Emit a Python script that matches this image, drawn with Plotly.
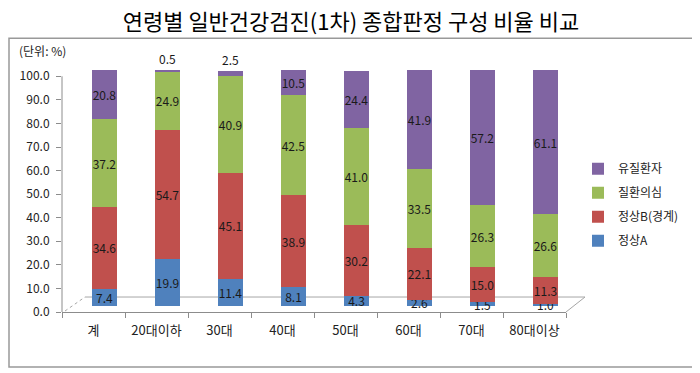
import plotly.graph_objects as go

categories = ["계", "20대이하", "30대", "40대", "50대", "60대", "70대", "80대이상"]
normal_a = [7.4, 19.9, 11.4, 8.1, 4.3, 2.6, 1.5, 1.0]
normal_b = [34.6, 54.7, 45.1, 38.9, 30.2, 22.1, 15.0, 11.3]
suspect = [37.2, 24.9, 40.9, 42.5, 41.0, 33.5, 26.3, 26.6]
disease = [20.8, 0.5, 2.5, 10.5, 24.4, 41.9, 57.2, 61.1]
series_names = ["정상A", "정상B(경계)", "질환의심", "유질환자"]
colors = ["#4F81BD", "#C0504D", "#9BBB59", "#8064A2"]
y_ticks = [0, 10, 20, 30, 40, 50, 60, 70, 80, 90, 100]

# page offset (browser body margin)
O = 8
W, H = 700 - O, 373 - O
# target pixel geometry (in screenshot coordinates)
x_left, x_right = 62, 566
y_zero, y_hundred = 312, 76
px_per_unit = (y_zero - y_hundred) / 100.0
y_max = 112.0
y_top = y_zero - y_max * px_per_unit

L = x_left - O
R = W - (x_right - O)
T = y_top - O
B = H - (y_zero - O)
PW = x_right - x_left
PH = y_zero - y_top

dx_px, dy_px = 11, 6
shift_x = dx_px / (PW / len(categories))
shift_y = dy_px / px_per_unit

font_kr = "Noto Sans CJK KR, Noto Sans, sans-serif"

def px_x(px):
    return (px - x_left) / PW

def px_y(py):
    return (y_zero - py) / PH

fig = go.Figure()
fig.add_trace(go.Scatter(x=categories, y=[0] * len(categories), mode="markers",
                         marker=dict(opacity=0), showlegend=False, hoverinfo="skip"))

all_series = [normal_a, normal_b, suspect, disease]
for i, (name, vals, col) in enumerate(zip(series_names, all_series, colors)):
    if i == 3:
        pos = ["outside" if v < 5 else "inside" for v in vals]
    else:
        pos = ["inside"] * len(vals)
    fig.add_trace(go.Bar(
        x=categories, y=vals, name=name, legendgroup=name, legendrank=1000 - i,
        marker=dict(color=col, line=dict(width=0)),
        text=[f"{v:.1f}" for v in vals], textposition=pos, insidetextanchor="middle",
        constraintext="none", textangle=0, cliponaxis=False,
        textfont=dict(family=font_kr, size=12, color="#1a1a1a"),
        outsidetextfont=dict(family=font_kr, size=12, color="#1a1a1a"),
        width=0.4, xaxis="x2", yaxis="y2",
    ))

shapes = []
shapes.append(dict(type="line", xref="paper", yref="y", x0=0, x1=0, y0=0, y1=100,
                   line=dict(color="#8c8c8c", width=1)))
floor = [
    (65, 311, 85, 297, "dot"),
    (85, 297, 585, 297, "solid"),
    (566, 312, 585, 297, "solid"),
]
for x0, y0, x1, y1, dash in floor:
    shapes.append(dict(type="line", xref="paper", yref="paper",
                       x0=px_x(x0), y0=px_y(y0), x1=px_x(x1), y1=px_y(y1),
                       line=dict(color="#a6a6a6", width=1, dash=dash), layer="below"))
# outer frame
shapes.append(dict(type="rect", xref="paper", yref="paper",
                   x0=px_x(9), x1=px_x(696), y0=px_y(367), y1=px_y(38),
                   line=dict(color="#999999", width=1.5), layer="above"))

fig.update_layout(
    width=W, height=H, margin=dict(l=L, r=R, t=T, b=B, autoexpand=False),
    paper_bgcolor="white", plot_bgcolor="white",
    barmode="stack",
    title=dict(text="연령별 일반건강검진(1차) 종합판정 구성 비율 비교",
               x=(351 - O) / W, xref="container",
               y=1 - (22 - O) / H, yref="container", yanchor="middle", xanchor="center",
               font=dict(family=font_kr, size=22, color="#000000")),
    font=dict(family=font_kr, size=12, color="#222222"),
    xaxis=dict(type="category", categoryarray=categories, range=[-0.5, len(categories) - 0.5],
               showgrid=False, showline=True, linecolor="#8c8c8c", ticks="outside",
               tickson="boundaries", ticklen=5, tickcolor="#8c8c8c", ticklabelstandoff=6,
               tickfont=dict(family=font_kr, size=13, color="#222222"), fixedrange=True),
    yaxis=dict(range=[0, y_max], tickvals=y_ticks, tickformat=".1f", showgrid=False,
               showline=False, ticks="outside", ticklen=5, ticklabelstandoff=4,
               tickcolor="#8c8c8c", zeroline=False,
               tickfont=dict(family=font_kr, size=12, color="#222222")),
    xaxis2=dict(type="category", categoryarray=categories, overlaying="x", visible=False,
                range=[-0.5 - shift_x, len(categories) - 0.5 - shift_x]),
    yaxis2=dict(overlaying="y", visible=False, range=[-shift_y, y_max - shift_y]),
    legend=dict(x=px_x(578), y=px_y(154), xanchor="left", yanchor="top",
                traceorder="grouped",
                font=dict(family=font_kr, size=12, color="#222222"),
                itemwidth=30, tracegroupgap=5, bgcolor="rgba(0,0,0,0)"),
    shapes=shapes,
    annotations=[dict(text="(단위: %)", xref="paper", yref="paper", x=px_x(17),
                      y=px_y(50), xanchor="left", yanchor="middle", showarrow=False,
                      font=dict(family=font_kr, size=12, color="#222222"))],
    showlegend=True,
)

fig.write_html("out.html")
